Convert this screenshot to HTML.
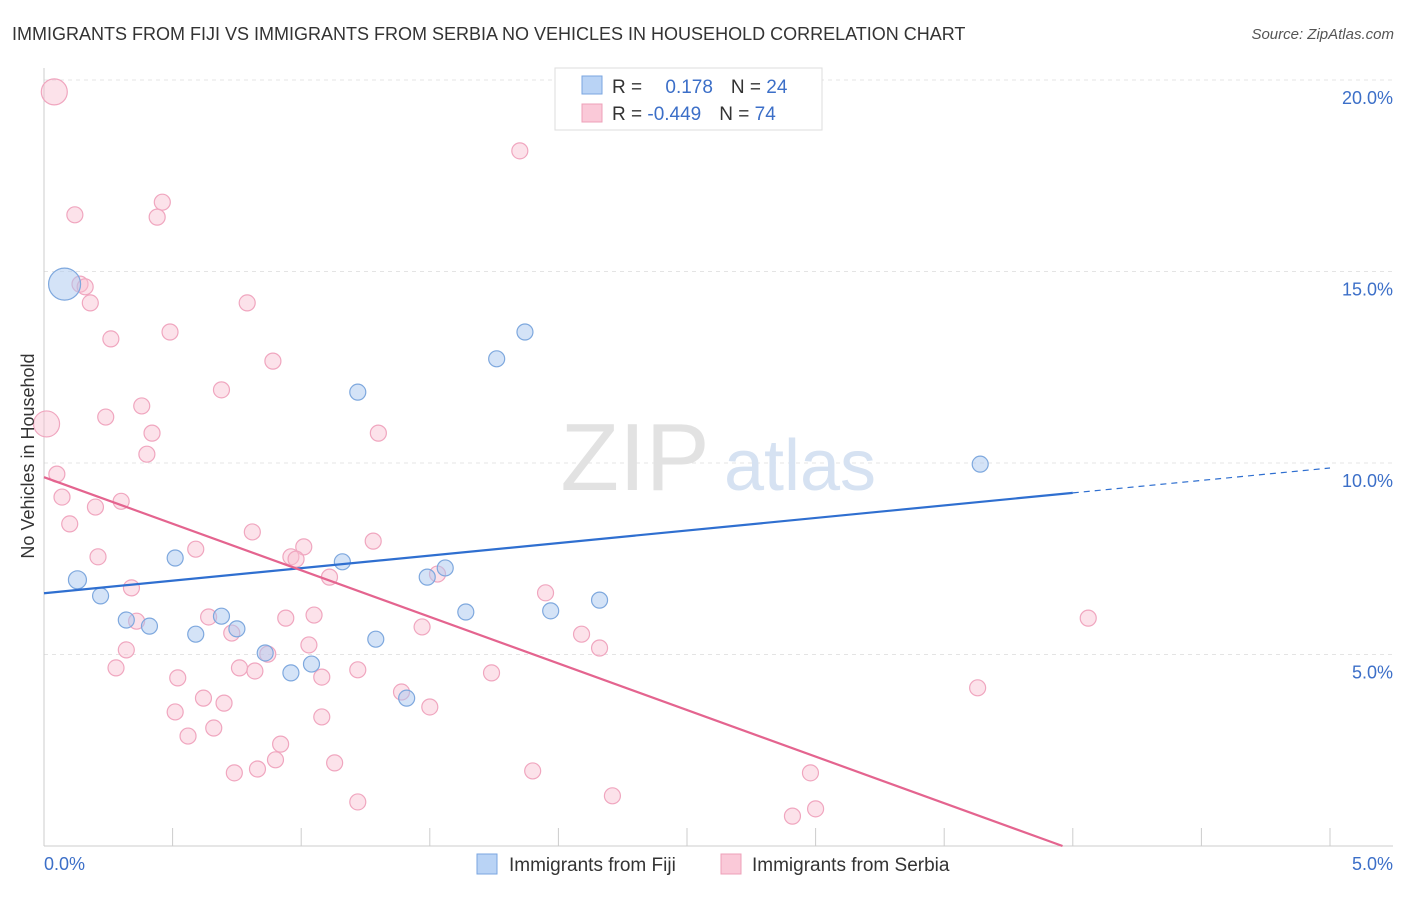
<!DOCTYPE html>
<html><head><meta charset="utf-8"><style>
body{margin:0;background:#fff;font-family:"Liberation Sans",sans-serif}
svg text{font-family:"Liberation Sans",sans-serif}
</style></head><body>
<svg width="1406" height="892" xmlns="http://www.w3.org/2000/svg">
<text x="12" y="40" font-size="18" fill="#333">IMMIGRANTS FROM FIJI VS IMMIGRANTS FROM SERBIA NO VEHICLES IN HOUSEHOLD CORRELATION CHART</text>
<text x="1394" y="39" font-size="15" fill="#555" text-anchor="end" font-style="italic">Source: ZipAtlas.com</text>
<g id="grid"></g>
<g><text x="635" y="490" font-size="96" fill="#e2e2e2" font-family="Liberation Serif" text-anchor="middle">ZIP</text><text x="800" y="490" font-size="72" fill="#d6e2f2" text-anchor="middle">atlas</text></g>
<g id="axes"></g>
<g id="marks"></g>
<text transform="translate(34,456) rotate(-90)" font-size="18" fill="#333" text-anchor="middle">No Vehicles in Household</text>
<g>
<rect x="555" y="68" width="267" height="62" fill="#fff" stroke="#ddd"/>
<rect x="582" y="76" width="20" height="18" fill="#b9d3f5" stroke="#7aa6e0"/>
<rect x="582" y="104" width="20" height="18" fill="#fac9d8" stroke="#eea0b8"/>
<text x="612" y="93" font-size="19" fill="#333">R = <tspan fill="#3c6fc8" dx="18">0.178</tspan><tspan dx="18" fill="#333">N = </tspan><tspan fill="#3c6fc8">24</tspan></text>
<text x="612" y="120" font-size="19" fill="#333">R = <tspan fill="#3c6fc8">-0.449</tspan><tspan dx="18" fill="#333">N = </tspan><tspan fill="#3c6fc8">74</tspan></text>
</g>
<g>
<rect x="477" y="854" width="20" height="20" fill="#b9d3f5" stroke="#7aa6e0"/>
<text x="509" y="871" font-size="19" fill="#333">Immigrants from Fiji</text>
<rect x="721" y="854" width="20" height="20" fill="#fac9d8" stroke="#eea0b8"/>
<text x="752" y="871" font-size="19" fill="#333">Immigrants from Serbia</text>
</g>
</svg>
<script>
const fijiX=[0.08,0.13,0.22,0.32,0.41,0.51,0.59,0.69,0.75,0.86,0.96,1.04,1.16,1.22,1.29,1.41,1.49,1.56,1.64,1.76,1.87,1.97,2.16,3.64];
const fijiY=[14.67,6.95,6.53,5.9,5.74,7.52,5.53,6.0,5.67,5.04,4.52,4.75,7.42,11.85,5.4,3.86,7.02,7.26,6.11,12.72,13.42,6.14,6.42,9.97];
const fijiR=[16,9,8,8,8,8,8,8,8,8,8,8,8,8,8,8,8,8,8,8,8,8,8,8];
const serbX=[0.04,0.12,0.46,0.44,0.14,0.16,0.18,0.79,0.26,0.49,0.89,0.69,0.38,0.24,0.42,0.01,0.40,1.30,1.85,0.05,0.07,0.20,0.30,0.10,0.81,0.59,0.21,1.28,1.01,0.96,0.98,1.11,1.53,0.34,1.95,0.36,0.64,0.94,1.05,0.73,0.87,1.03,1.47,2.09,2.16,0.32,0.28,0.76,0.82,1.22,1.08,0.52,1.74,0.62,0.70,1.39,1.50,0.51,1.08,0.66,0.56,0.92,0.90,1.13,0.83,0.74,1.90,2.21,1.22,2.98,3.00,2.91,4.06,3.63];
const serbY=[19.69,16.48,16.81,16.42,14.67,14.6,14.18,14.18,13.24,13.42,12.66,11.91,11.49,11.2,10.78,11.02,10.23,10.78,18.15,9.71,9.11,8.85,9.0,8.41,8.2,7.75,7.55,7.96,7.81,7.55,7.49,7.02,7.1,6.74,6.61,5.87,5.98,5.95,6.03,5.56,5.01,5.25,5.72,5.53,5.17,5.12,4.65,4.65,4.57,4.6,4.41,4.39,4.52,3.86,3.73,4.02,3.63,3.5,3.37,3.08,2.87,2.66,2.25,2.17,2.01,1.91,1.96,1.31,1.15,1.91,0.97,0.78,5.95,4.13];
const serbBig=[0,15];
const yTicks=[5,10,15,20];
const yTickLabels=["5.0%","10.0%","15.0%","20.0%"];
const fijiTrend=[6.6,9.22,9.87]; // at x=0, 4, 5
const serbTrend=[9.63,0,3.96]; // y at 0, y value, x where reached
const NS="http://www.w3.org/2000/svg";
const sx=v=>44+v*257.2, sy=v=>846-v*38.3;
function mk(t,a,p){const e=document.createElementNS(NS,t);for(const k in a)e.setAttribute(k,a[k]);p.appendChild(e);return e;}
const grid=document.getElementById('grid'),axes=document.getElementById('axes'),marks=document.getElementById('marks');
yTicks.forEach((t,i)=>{
 const l=mk('line',{x1:44,x2:1393,y1:sy(t),y2:sy(t),stroke:'#e4e4e4','stroke-dasharray':'4,4'},grid);
 
 
 const tx=mk('text',{x:1393,y:sy(t)+24,'font-size':18,fill:'#3c6fc8','text-anchor':'end'},axes);
 tx.textContent=yTickLabels[i];
 
 
});
mk('line',{x1:44,x2:44,y1:68,y2:846,stroke:'#ccc'},axes);
mk('line',{x1:44,x2:1393,y1:846,y2:846,stroke:'#ccc'},axes);
for(let i=0;i<=10;i++){const tk=mk('line',{x1:sx(i*0.5),x2:sx(i*0.5),y1:828,y2:846,stroke:'#ccc'},axes);
 
 }
let t0=mk('text',{x:44,y:870,'font-size':18,fill:'#3c6fc8'},axes);t0.textContent='0.0%';


let t1=mk('text',{x:1393,y:870,'font-size':18,fill:'#3c6fc8','text-anchor':'end'},axes);t1.textContent='5.0%';


serbX.forEach((x,i)=>{const c=mk('circle',{cx:sx(x),cy:sy(serbY[i]),r:serbBig.includes(i)?13:8,fill:'rgba(248,190,208,0.45)',stroke:'#f0a6bf','stroke-width':1.2},marks);
 
 });
fijiX.forEach((x,i)=>{const c=mk('circle',{cx:sx(x),cy:sy(fijiY[i]),r:fijiR[i],fill:'rgba(170,200,240,0.5)',stroke:'#7ea8de','stroke-width':1.2},marks);
 
 });
let l1=mk('line',{x1:sx(0),y1:sy(fijiTrend[0]),x2:sx(4),y2:sy(fijiTrend[1]),stroke:'#2f6fd0','stroke-width':2.2},marks);


let l2=mk('line',{x1:sx(4),y1:sy(fijiTrend[1]),x2:sx(5),y2:sy(fijiTrend[2]),stroke:'#2f6fd0','stroke-width':1.2,'stroke-dasharray':'6,5'},marks);


let l3=mk('line',{x1:sx(0),y1:sy(serbTrend[0]),x2:sx(serbTrend[2]),y2:sy(serbTrend[1]),stroke:'#e4648f','stroke-width':2.2},marks);


</script>
</body></html>
